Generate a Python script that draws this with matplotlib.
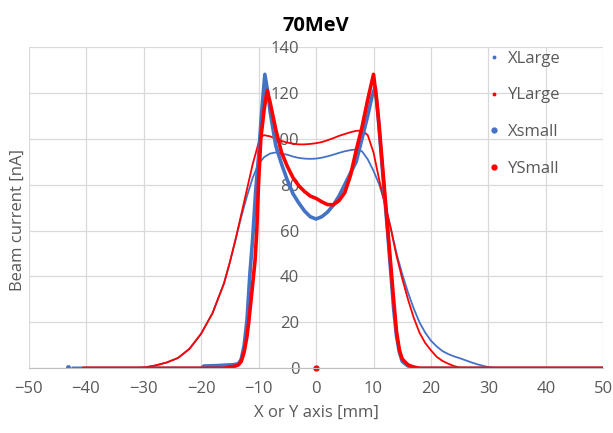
import matplotlib

matplotlib.use("Agg")
import matplotlib.pyplot as plt
from matplotlib.lines import Line2D

plt.rcParams["font.family"] = ["Open Sans", "DejaVu Sans"]

# beam profiles (x in mm, current in nA)
xlarge_x = [-42.3, -32, -30, -28, -26, -24, -22, -20, -18, -16, -15, -14, -13, -12, -11, -10,
            -9, -8, -7, -6, -5, -4, -3, -2, -1, 0, 1, 2, 3, 4, 5, 6, 7, 8, 9, 10,
            11, 12, 13, 14, 15, 16, 17, 18, 19, 20, 21, 22, 23, 24, 25, 26, 27, 28, 29, 30,
            31, 32, 50]
xlarge_y = [0, 0, 0.3, 1.2, 2.5, 4.5, 8.5, 15, 24, 37, 46, 56, 66, 75, 83, 89,
            92, 93.5, 94, 93.5, 93, 92.2, 91.6, 91.3, 91.2, 91.3, 91.7, 92.3, 93, 93.8, 94.5, 95, 95.3, 94.5, 91, 86,
            80, 72, 61, 50, 41, 33, 26, 20, 15.5, 12, 9.5, 7.5, 6.2, 5.2, 4.4, 3.5, 2.6, 1.8, 1.1, 0.5,
            0.2, 0, 0]

ylarge_x = [-40.5, -32, -30, -28, -26, -24, -22, -20, -18, -16, -15, -14, -13, -12, -11, -10,
            -9.5, -9, -8, -7, -6, -5, -4, -3, -2, -1, 0, 1, 2, 3, 4, 5, 6, 7, 8, 9, 10,
            11, 12, 13, 14, 15, 16, 17, 18, 19, 20, 21, 22, 23, 24, 25, 26, 50]
ylarge_y = [0, 0, 0.3, 1.2, 2.5, 4.5, 8.5, 15, 24, 37, 46, 56, 67, 78, 89, 98,
            101, 101.5, 101, 100, 99, 98.3, 97.8, 97.5, 97.5, 97.7, 98, 98.5, 99.3, 100.2, 101.2, 102, 102.8, 103.4, 103.5, 101.5, 94,
            82, 71, 61, 49, 39, 30, 22, 15.5, 11, 7.8, 5, 3.2, 2, 1, 0.3, 0, 0]

xsmall_x = [-42.3, -20, -19.5, -17, -15, -14.5, -13.5, -13, -12.5, -12, -11.5, -11, -10.5, -10,
            -9.5, -8.9, -8.3, -8, -7, -6, -5, -4, -3, -2, -1, 0, 1, 2, 3, 4, 5, 6, 7, 8, 9,
            9.8, 10.3, 10.8, 11.5, 12, 12.5, 13, 13.5, 14, 14.5, 15, 16, 17, 18, 50]
xsmall_y = [0, 0, 1, 1.2, 1.5, 1.5, 2, 4, 10, 21, 41, 57, 77, 92,
            110, 128, 119, 112, 97, 89, 82, 76, 72, 68.5, 66, 65, 66, 68, 71, 75, 80, 85, 90, 100, 110,
            119, 122.5, 110, 88, 73, 58, 42, 26, 14, 7, 3, 1, 0.5, 0, 0]

ysmall_x = [-40.5, -16, -15, -14.5, -14, -13.5, -13, -12.5, -12, -11.7, -11, -10.6, -10.3, -10,
            -9.6, -9, -8.5, -8, -7, -6, -5, -4, -3, -2, -1, 0, 1, 2, 3, 4, 5, 6, 7, 8, 9,
            10, 10.5, 11, 11.5, 12, 12.5, 13, 13.5, 14, 14.5, 15, 16, 17, 18, 50]
ysmall_y = [0, 0, 0.5, 0.8, 1, 1.5, 3, 7, 14, 20, 37, 47, 60, 80,
            100, 113, 121, 116, 104, 94, 88, 83, 79.5, 77, 75, 74, 72.5, 71.3, 71.2, 73, 76.5, 84, 95, 105, 117,
            128, 118, 105, 90, 75, 60, 45, 30, 16, 8, 4, 1.5, 0.5, 0, 0]

# stray single points near the baseline
stray_blue_x = [-43.2]
stray_blue_y = [0.5]
stray_red_x = [0]
stray_red_y = [0]

blue = "#4472C4"
red = "#FF0000"
grey = "#595959"

fig = plt.figure(figsize=(6.13, 4.33), dpi=100)
ax = fig.add_axes([0.0465, 0.1494, 0.938, 0.7426])

ax.plot(xlarge_x, xlarge_y, color=blue, lw=1.3, solid_capstyle="round")
ax.plot(ylarge_x, ylarge_y, color=red, lw=1.3, solid_capstyle="round")
ax.plot(xsmall_x, xsmall_y, color=blue, lw=2.6, solid_capstyle="round")
ax.plot(ysmall_x, ysmall_y, color=red, lw=2.6, solid_capstyle="round")
ax.plot(stray_blue_x, stray_blue_y, "o", color=blue, ms=2.5)
ax.plot(stray_red_x, stray_red_y, "o", color=red, ms=3.5, clip_on=False)

ax.set_xlim(-50, 50)
ax.set_ylim(0, 140)
ax.set_xticks(range(-50, 51, 10))
ax.set_yticks(range(0, 141, 20))
ax.grid(True, color="#d9d9d9", lw=0.9)
ax.set_axisbelow(True)

for s in ["top", "right", "left"]:
    ax.spines[s].set_visible(False)
ax.spines["bottom"].set_color("#bfbfbf")
ax.spines["left"].set_position(("data", 0))

ax.tick_params(axis="both", length=0, labelsize=12, labelcolor=grey)
ax.tick_params(axis="y", pad=12)
ax.tick_params(axis="x", pad=9)

ax.set_title("70MeV", fontsize=14.5, fontweight="bold", color="#000000", pad=11)
ax.set_xlabel("X or Y axis [mm]", fontsize=12, color=grey, labelpad=6)
ax.set_ylabel("Beam current [nA]", fontsize=12, color=grey)
ax.yaxis.set_label_coords(-0.004, 0.46)

handles = [
    Line2D([], [], ls="", marker="o", color=blue, ms=1.8),
    Line2D([], [], ls="", marker="o", color=red, ms=1.8),
    Line2D([], [], ls="", marker="o", color=blue, ms=3.5),
    Line2D([], [], ls="", marker="o", color=red, ms=3.5),
]
leg = fig.legend(handles, ["XLarge", "YLarge", "Xsmall", "YSmall"],
                 loc="upper left", bbox_to_anchor=(0.774, 0.918),
                 frameon=False, fontsize=12, labelspacing=1.25,
                 handlelength=0.6, handletextpad=0.5)
for t in leg.get_texts():
    t.set_color(grey)

fig.savefig("out.png", dpi=100)
